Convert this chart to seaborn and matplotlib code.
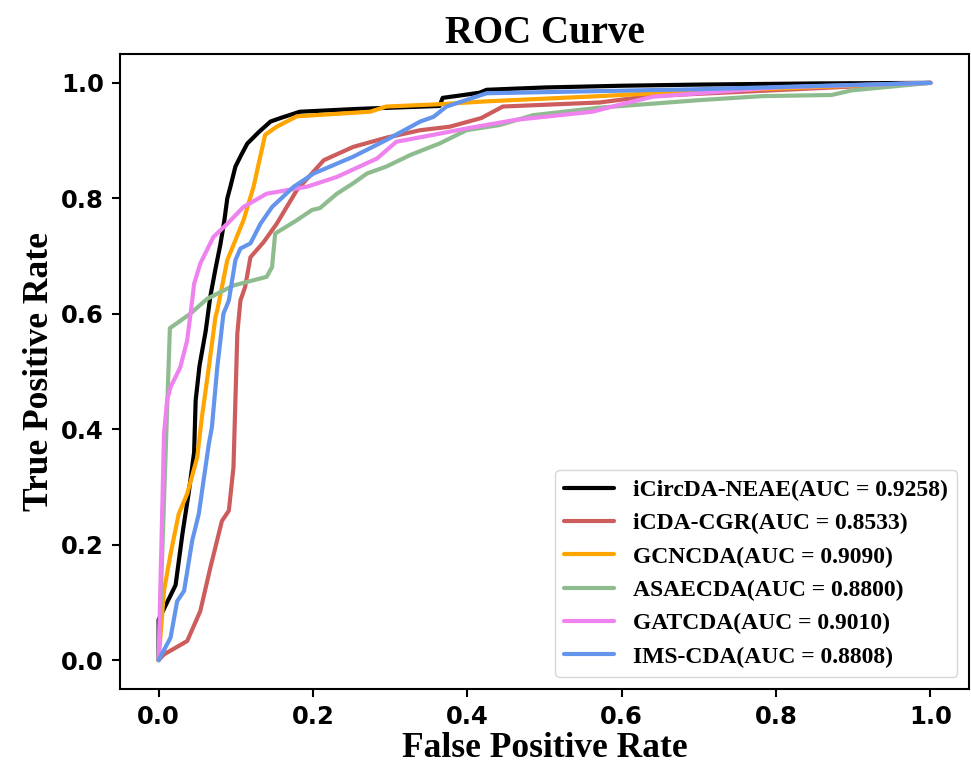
import numpy as np
import pandas as pd
import seaborn as sns
import matplotlib.pyplot as plt

sns.set_style('ticks')
plt.rcParams['text.color'] = 'black'
plt.rcParams['axes.labelcolor'] = 'black'
plt.rcParams['xtick.color'] = 'black'
plt.rcParams['ytick.color'] = 'black'
plt.rcParams['axes.edgecolor'] = 'black'

# ROC points
neae_fpr = [0, 0, 0.011, 0.022, 0.031, 0.039, 0.046, 0.048, 0.053, 0.061, 0.067, 0.074, 0.080, 0.085,
            0.089, 0.093, 0.0995, 0.107, 0.115, 0.13, 0.145, 0.16, 0.183, 0.26, 0.364, 0.368, 0.39,
            0.416, 0.425, 0.5, 0.6, 0.7, 0.85, 1.0]
neae_tpr = [0, 0.07, 0.10, 0.13, 0.22, 0.29, 0.36, 0.45, 0.51, 0.57, 0.63, 0.68, 0.72, 0.76,
            0.80, 0.82, 0.855, 0.875, 0.895, 0.915, 0.933, 0.94, 0.95, 0.955, 0.96, 0.974, 0.978,
            0.983, 0.988, 0.992, 0.995, 0.997, 0.999, 1.0]

cgr_fpr = [0, 0.007, 0.037, 0.054, 0.067, 0.082, 0.091, 0.097, 0.0995, 0.102, 0.106, 0.112, 0.119,
           0.136, 0.153, 0.179, 0.214, 0.252, 0.295, 0.339, 0.377, 0.418, 0.446, 0.571, 0.636, 1.0]
cgr_tpr = [0, 0.01, 0.033, 0.085, 0.16, 0.241, 0.259, 0.334, 0.45, 0.566, 0.623, 0.646, 0.698,
           0.724, 0.756, 0.814, 0.866, 0.889, 0.905, 0.918, 0.924, 0.939, 0.959, 0.966, 0.977, 1.0]

gcn_fpr = [0, 0.007, 0.0155, 0.026, 0.037, 0.05, 0.056, 0.065, 0.0736, 0.076, 0.089, 0.110, 0.123,
           0.138, 0.153, 0.179, 0.274, 0.295, 0.364, 0.425, 0.571, 0.657, 1.0]
gcn_tpr = [0, 0.12, 0.184, 0.253, 0.288, 0.351, 0.42, 0.507, 0.594, 0.606, 0.693, 0.762, 0.82,
           0.91, 0.924, 0.942, 0.95, 0.959, 0.963, 0.968, 0.977, 0.983, 1.0]

asae_fpr = [0, 0.0146, 0.041, 0.063, 0.097, 0.140, 0.147, 0.151, 0.179, 0.199, 0.209, 0.231, 0.252,
            0.270, 0.295, 0.326, 0.364, 0.399, 0.442, 0.485, 0.571, 0.70, 0.782, 0.872, 0.898, 1.0]
asae_tpr = [0, 0.575, 0.60, 0.626, 0.649, 0.664, 0.681, 0.739, 0.762, 0.780, 0.783, 0.808, 0.826,
            0.843, 0.855, 0.875, 0.895, 0.918, 0.927, 0.944, 0.957, 0.97, 0.977, 0.979, 0.987, 1.0]

gat_fpr = [0, 0.005, 0.007, 0.011, 0.0155, 0.028, 0.037, 0.0435, 0.046, 0.054, 0.071, 0.089, 0.110,
           0.140, 0.166, 0.192, 0.231, 0.283, 0.308, 0.356, 0.399, 0.463, 0.562, 0.597, 0.64, 0.8, 1.0]
gat_tpr = [0, 0.276, 0.392, 0.45, 0.473, 0.507, 0.554, 0.623, 0.652, 0.687, 0.733, 0.756, 0.785,
           0.808, 0.814, 0.82, 0.837, 0.869, 0.898, 0.91, 0.921, 0.936, 0.950, 0.962, 0.976, 0.992, 1.0]

ims_fpr = [0, 0.0155, 0.024, 0.033, 0.0435, 0.052, 0.065, 0.069, 0.076, 0.084, 0.091, 0.0995, 0.106,
           0.119, 0.132, 0.147, 0.175, 0.201, 0.252, 0.295, 0.339, 0.356, 0.373, 0.425, 0.70, 1.0]
ims_tpr = [0, 0.039, 0.102, 0.12, 0.207, 0.253, 0.374, 0.403, 0.507, 0.60, 0.623, 0.693, 0.713,
           0.722, 0.756, 0.785, 0.82, 0.843, 0.872, 0.901, 0.933, 0.941, 0.959, 0.982, 0.989, 1.0]

models = ['iCircDA-NEAE', 'iCDA-CGR', 'GCNCDA', 'ASAECDA', 'GATCDA', 'IMS-CDA']
aucs = [0.9258, 0.8533, 0.9090, 0.8800, 0.9010, 0.8808]
fprs = [neae_fpr, cgr_fpr, gcn_fpr, asae_fpr, gat_fpr, ims_fpr]
tprs = [neae_tpr, cgr_tpr, gcn_tpr, asae_tpr, gat_tpr, ims_tpr]
colors = ['black', 'indianred', 'orange', 'darkseagreen', 'violet', 'cornflowerblue']

labels = [f"{m}(AUC = {a:.4f})" for m, a in zip(models, aucs)]
frames = []
for lab, f, t in zip(labels, fprs, tprs):
    frames.append(pd.DataFrame({'fpr': f, 'tpr': t, 'model': lab}))
df = pd.concat(frames, ignore_index=True)

fig, ax = plt.subplots(figsize=(9.71, 7.67), dpi=100)
fig.subplots_adjust(left=0.1236, right=0.998, top=0.9296, bottom=0.1017)

sns.lineplot(data=df, x='fpr', y='tpr', hue='model', palette=dict(zip(labels, colors)),
             sort=False, estimator=None, linewidth=3, ax=ax)

serif = {'family': 'Liberation Serif', 'weight': 'bold', 'color': 'black'}
ax.set_title('ROC Curve', fontdict=dict(serif, size=28), pad=8)
ax.set_xlabel('False Positive Rate', fontdict=dict(serif, size=25.5), labelpad=2)
ax.set_ylabel('True Positive Rate', fontdict=dict(serif, size=25.5), labelpad=4)

ax.set_xlim(-0.05, 1.05)
ax.set_ylim(-0.05, 1.05)
ax.set_xticks(np.arange(0, 1.01, 0.2))
ax.set_yticks(np.arange(0, 1.01, 0.2))
for lbl in ax.get_xticklabels() + ax.get_yticklabels():
    lbl.set_fontsize(17.5)
    lbl.set_fontweight('bold')
    lbl.set_fontfamily('DejaVu Sans')
ax.tick_params(width=1.5, length=5.5, pad=6)
for s in ax.spines.values():
    s.set_linewidth(1.5)
    s.set_color('black')
    s.set_visible(True)

ax.legend(loc='lower right', prop=dict(family='Liberation Serif', weight='bold', size=17),
          handlelength=2.1, frameon=True, borderaxespad=0.5)

plt.savefig('out.png', dpi=100)
